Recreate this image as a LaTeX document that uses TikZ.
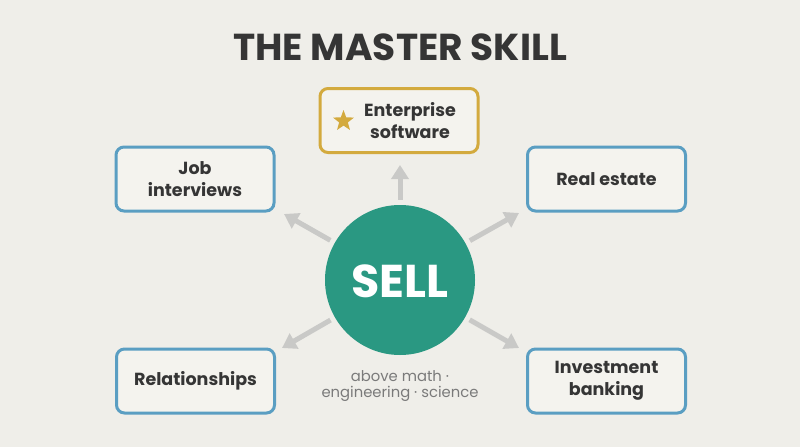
\documentclass[tikz,border=0pt]{standalone}
\usepackage{fontspec}
\setmainfont{Poppins}
\usetikzlibrary{arrows.meta,shapes.geometric}
\definecolor{bg}{HTML}{EFEEE9}
\definecolor{boxfill}{HTML}{F4F3EE}
\definecolor{teal}{HTML}{2A9882}
\definecolor{gold}{HTML}{D3AA3E}
\definecolor{bluebd}{HTML}{5A9EC2}
\definecolor{txt}{HTML}{353535}
\definecolor{arrowgray}{HTML}{C9C9C7}
\definecolor{subgray}{HTML}{7A7A7A}
\tikzset{
  cardfont/.style={font=\fontsize{17.5}{22}\selectfont\bfseries},
  card/.style={draw=bluebd, line width=3pt, fill=boxfill, rounded corners=8pt,
    minimum width=158pt, minimum height=64pt, align=center, text=txt,
    cardfont, inner sep=0pt},
  goldcard/.style={card, draw=gold},
  arr/.style={draw=arrowgray, line width=5pt, shorten <=5pt,
    -{Triangle[width=17pt,length=14pt]}},
}
\begin{document}
\begin{tikzpicture}[x=1pt,y=-1pt]
\useasboundingbox[fill=bg] (0,0) rectangle (800,447);
\node[text=txt, font=\fontsize{37.5}{40}\selectfont\bfseries] (title) at (400,47) {THE MASTER SKILL};
\node[circle, fill=teal, minimum size=150pt, inner sep=0pt] (sell) at (400,280) {};
\node[text=white, font=\fontsize{46}{50}\selectfont\bfseries] (selltxt) at (400,281) {SELL};
\node[goldcard] (ent) at (399,120.5) {};
\node[text=txt, cardfont, align=center] (enttxt) at (410,120.5) {Enterprise\\software};
\node[star, star points=5, star point ratio=2.4, fill=gold, minimum size=22pt, inner sep=0pt] (star) at (343.5,121) {};
\node[card] (job) at (195,179) {Job\\interviews};
\node[card] (real) at (606.5,179) {Real estate};
\node[card] (rel) at (195.5,381) {Relationships};
\node[card] (inv) at (606.5,381) {Investment\\banking};
\node[text=subgray, font=\fontsize{14.8}{16}\selectfont, align=center] (sub) at (400,386) {above math ·\\engineering · science};
\coordinate (tE) at (400,165);
\coordinate (tJ) at (284,214);
\coordinate (tR) at (519,213);
\coordinate (tL) at (282,348);
\coordinate (tI) at (519,348);
\draw[arr] (sell) -- (tE);
\draw[arr] (sell) -- (tJ);
\draw[arr] (sell) -- (tR);
\draw[arr] (sell) -- (tL);
\draw[arr] (sell) -- (tI);
\end{tikzpicture}
\end{document}
